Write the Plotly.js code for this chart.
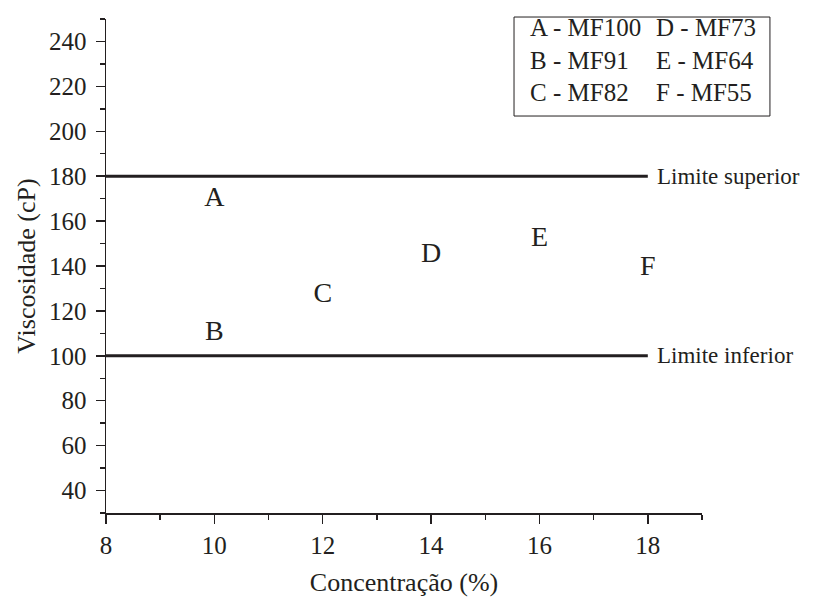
<!DOCTYPE html>
<html><head><meta charset="utf-8">
<script src="https://cdn.plot.ly/plotly-3.0.1.min.js"></script>
<style>body{margin:0;background:#fff}#chart{width:814px;height:599px}</style>
</head><body><div id="chart"></div>
<script>
const letters = ["A","B","C","D","E","F"];
const conc = [10, 10, 12, 14, 16, 18];
const visc = [170, 110, 127, 145, 152, 139];
const limitX = [8, 18];
const upperLimit = [180, 180];
const lowerLimit = [100, 100];
const xTicks = [8, 10, 12, 14, 16, 18];
const yTicks = [40, 60, 80, 100, 120, 140, 160, 180, 200, 220, 240];
const legendCol1 = ["A - MF100","B - MF91","C - MF82"];
const legendCol2 = ["D - MF73","E - MF64","F - MF55"];
const fnt = "Liberation Serif";
const ink = "#231f20";

const traces = [
  {x: limitX, y: upperLimit, mode:"lines", line:{color:ink, width:3}, hoverinfo:"skip"},
  {x: limitX, y: lowerLimit, mode:"lines", line:{color:ink, width:3}, hoverinfo:"skip"},
  {x: conc, y: visc, mode:"text", text: letters, textposition:"middle center",
   textfont:{family:fnt, size:28, color:ink}}
];

const annotations = [
  {x:limitX[1], y:upperLimit[1], xref:"x", yref:"y", text:"Limite superior", showarrow:false,
   xanchor:"left", yanchor:"middle", xshift:7, font:{family:fnt, size:23, color:ink}},
  {x:limitX[1], y:lowerLimit[1], xref:"x", yref:"y", text:"Limite inferior", showarrow:false,
   xanchor:"left", yanchor:"middle", xshift:7, font:{family:fnt, size:23, color:ink}},
  {x:0.708, y:1.014, xref:"paper", yref:"paper", text:legendCol1.join("<br>"), showarrow:false,
   xanchor:"left", yanchor:"top", align:"left", font:{family:fnt, size:25, color:ink}},
  {x:0.919, y:1.014, xref:"paper", yref:"paper", text:legendCol2.join("<br>"), showarrow:false,
   xanchor:"left", yanchor:"top", align:"left", font:{family:fnt, size:25, color:ink}}
];

const layout = {
  width:814, height:599,
  margin:{l:106, r:112, t:19, b:86},
  paper_bgcolor:"#fff", plot_bgcolor:"#fff",
  showlegend:false,
  font:{family:fnt, color:ink, size:24},
  xaxis:{range:[8,19], tickmode:"array", tickvals:xTicks,
    ticks:"outside", ticklen:9, tickwidth:1.5, tickcolor:ink,
    showline:true, linecolor:ink, linewidth:1.5, showgrid:false, zeroline:false,
    minor:{tickmode:"array", tickvals:[9,11,13,15,17,19], ticks:"outside", ticklen:5, tickwidth:1.5, tickcolor:ink, showgrid:false},
    tickfont:{family:fnt, size:25, color:ink},
    title:{text:"Concentração (%)", font:{family:fnt, size:26, color:ink}, standoff:15}},
  yaxis:{range:[30,250], tickmode:"array", tickvals:yTicks,
    ticks:"outside", ticklen:9, tickwidth:1.5, tickcolor:ink,
    showline:true, linecolor:ink, linewidth:1.5, showgrid:false, zeroline:false,
    minor:{tickmode:"array", tickvals:[30,50,70,90,110,130,150,170,190,210,230,250], ticks:"outside", ticklen:5, tickwidth:1.5, tickcolor:ink, showgrid:false},
    tickfont:{family:fnt, size:25, color:ink},
    ticklabelstandoff:4,
    title:{text:"Viscosidade (cP)", font:{family:fnt, size:26, color:ink}, standoff:6}},
  shapes:[{type:"rect", xref:"paper", yref:"paper", x0:0.6846, x1:1.114, y0:0.8036, y1:1.004,
    line:{color:ink, width:1}, fillcolor:"rgba(0,0,0,0)"}],
  annotations: annotations
};

Plotly.newPlot("chart", traces, layout, {displayModeBar:false, staticPlot:true});
</script></body></html>
